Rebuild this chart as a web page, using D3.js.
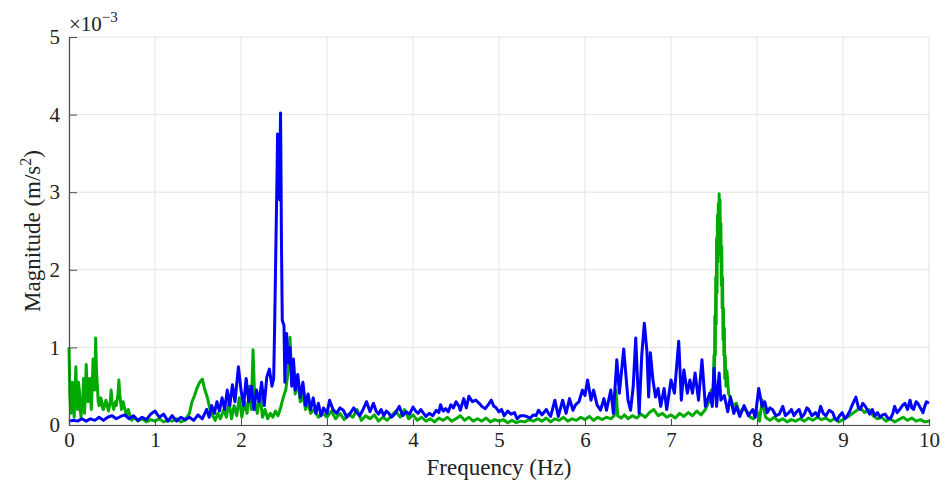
<!DOCTYPE html>
<html>
<head>
<meta charset="utf-8">
<script src="https://cdn.jsdelivr.net/npm/d3@7"></script>
<style>
  body { margin: 0; background: #fff; }
  text { font-family: "Liberation Serif", "DejaVu Serif", serif; fill: #222; }
</style>
</head>
<body>
<svg id="chart" width="945" height="485"></svg>
<script>
// tick values
const xTicks = [0, 1, 2, 3, 4, 5, 6, 7, 8, 9, 10];
const yTicks = [0, 1, 2, 3, 4, 5];

// spectra: [frequency Hz, magnitude x1e-3 m/s^2]
const blueSpectrum = [
  [0,0.05],[0.05,0.06],[0.1,0.05],[0.15,0.08],[0.2,0.05],[0.25,0.08],[0.3,0.06],[0.35,0.1],[0.4,0.06],[0.45,0.1],
  [0.5,0.12],[0.55,0.08],[0.6,0.11],[0.65,0.13],[0.7,0.08],[0.75,0.12],[0.8,0.06],[0.85,0.1],[0.9,0.07],[0.95,0.14],
  [1.0,0.18],[1.05,0.1],[1.1,0.14],[1.15,0.05],[1.2,0.12],[1.25,0.05],[1.3,0.1],[1.35,0.07],[1.4,0.1],[1.45,0.06],
  [1.5,0.13],[1.55,0.08],[1.6,0.2],[1.63,0.1],[1.66,0.25],[1.69,0.15],[1.72,0.3],[1.75,0.18],[1.78,0.35],[1.81,0.2],
  [1.84,0.45],[1.87,0.25],[1.9,0.52],[1.93,0.3],[1.97,0.75],[2.0,0.45],[2.03,0.25],[2.06,0.6],[2.09,0.3],[2.12,0.5],
  [2.15,0.2],[2.18,0.45],[2.21,0.3],[2.24,0.55],[2.27,0.25],[2.3,0.62],[2.33,0.72],[2.36,0.5],[2.38,0.6],[2.39,1.2],
  [2.4,1.9],[2.41,2.6],[2.42,3.3],[2.425,3.75],[2.435,3.1],[2.44,3.72],[2.45,2.9],[2.455,3.6],[2.46,4.02],[2.465,3.3],
  [2.47,2.4],[2.48,1.35],[2.5,1.28],[2.51,0.55],[2.53,1.18],
  [2.55,0.8],[2.57,1.0],[2.59,0.5],[2.61,0.85],[2.63,0.45],[2.66,0.65],[2.69,0.35],[2.72,0.55],[2.75,0.25],[2.78,0.4],
  [2.81,0.2],[2.84,0.35],[2.87,0.15],[2.9,0.28],[2.93,0.12],[2.96,0.22],[3.0,0.15],[3.03,0.32],[3.07,0.2],[3.11,0.15],
  [3.15,0.22],[3.19,0.19],[3.23,0.1],[3.27,0.15],[3.31,0.22],[3.34,0.17],[3.38,0.12],[3.42,0.2],[3.46,0.3],[3.5,0.17],
  [3.54,0.28],[3.57,0.18],[3.6,0.14],[3.63,0.2],[3.66,0.12],[3.69,0.18],[3.72,0.15],[3.75,0.1],[3.77,0.12],[3.8,0.16],
  [3.84,0.24],[3.88,0.12],[3.92,0.17],[3.96,0.14],[4.0,0.23],[4.03,0.18],[4.06,0.15],[4.09,0.2],[4.11,0.17],[4.15,0.11],
  [4.19,0.15],[4.23,0.12],[4.27,0.19],[4.3,0.16],[4.32,0.26],[4.35,0.18],[4.38,0.21],[4.41,0.17],[4.44,0.26],[4.47,0.22],
  [4.5,0.3],[4.53,0.25],[4.55,0.19],[4.59,0.34],[4.62,0.22],[4.65,0.37],[4.69,0.3],[4.73,0.32],[4.77,0.28],[4.8,0.24],
  [4.84,0.21],[4.88,0.27],[4.91,0.32],[4.94,0.24],[4.96,0.23],[5.0,0.17],[5.03,0.2],[5.06,0.12],[5.1,0.18],[5.14,0.14],
  [5.18,0.16],[5.21,0.08],[5.25,0.12],[5.29,0.12],[5.32,0.11],[5.36,0.09],[5.4,0.13],[5.43,0.12],[5.46,0.19],[5.5,0.13],
  [5.55,0.2],[5.58,0.14],[5.6,0.11],[5.65,0.32],[5.69,0.11],[5.74,0.32],[5.78,0.15],[5.82,0.34],[5.86,0.19],[5.89,0.26],
  [5.93,0.3],[5.97,0.45],[6.0,0.38],[6.03,0.58],[6.07,0.32],[6.1,0.45],[6.14,0.26],[6.18,0.19],[6.22,0.34],[6.25,0.19],
  [6.3,0.45],[6.33,0.15],[6.37,0.84],[6.4,0.41],[6.45,0.98],[6.5,0.32],[6.53,0.19],[6.56,0.49],[6.59,1.12],[6.61,0.6],
  [6.63,0.15],[6.66,0.9],[6.69,1.31],[6.72,0.95],[6.74,0.36],[6.76,0.93],[6.79,0.58],[6.82,0.36],[6.85,0.47],[6.88,0.24],
  [6.92,0.47],[6.95,0.2],[7.0,0.58],[7.04,0.41],[7.09,1.08],[7.12,0.32],[7.15,0.71],[7.19,0.41],[7.22,0.58],[7.25,0.41],
  [7.28,0.67],[7.32,0.32],[7.36,0.84],[7.4,0.24],[7.45,0.41],[7.48,0.24],[7.5,0.73],[7.53,0.24],[7.56,0.67],[7.58,0.32],
  [7.62,0.38],[7.66,0.17],[7.69,0.36],[7.73,0.15],[7.76,0.24],[7.8,0.11],[7.85,0.25],[7.9,0.12],[7.95,0.2],[7.98,0.1],
  [8.02,0.47],[8.06,0.24],[8.09,0.3],[8.12,0.16],[8.15,0.22],[8.18,0.2],[8.22,0.12],[8.26,0.14],[8.3,0.24],[8.33,0.12],
  [8.37,0.16],[8.4,0.2],[8.43,0.12],[8.46,0.17],[8.49,0.2],[8.52,0.1],[8.55,0.14],[8.58,0.22],[8.6,0.2],[8.64,0.12],
  [8.68,0.16],[8.71,0.11],[8.74,0.24],[8.77,0.15],[8.8,0.12],[8.84,0.19],[8.88,0.16],[8.9,0.1],[8.93,0.06],[8.96,0.12],
  [8.99,0.16],[9.02,0.08],[9.05,0.12],[9.08,0.18],[9.1,0.24],[9.15,0.36],[9.18,0.22],[9.2,0.2],[9.23,0.28],[9.26,0.24],
  [9.29,0.18],[9.31,0.14],[9.34,0.2],[9.37,0.12],[9.4,0.16],[9.43,0.1],[9.46,0.13],[9.49,0.14],[9.52,0.09],[9.55,0.08],
  [9.58,0.15],[9.6,0.24],[9.63,0.16],[9.66,0.2],[9.69,0.25],[9.72,0.28],[9.75,0.2],[9.78,0.32],[9.8,0.22],[9.82,0.2],
  [9.85,0.3],[9.87,0.28],[9.9,0.22],[9.93,0.16],[9.95,0.24],[9.97,0.3],[10,0.28]
];

const greenSpectrum = [
  [0,1.0],[0.01,0.4],[0.02,0.15],[0.03,0.3],[0.04,0.55],[0.05,0.25],[0.06,0.1],[0.07,0.4],[0.08,0.75],[0.09,0.3],
  [0.1,0.2],[0.11,0.55],[0.12,0.45],[0.13,0.2],[0.14,0.1],[0.15,0.3],[0.16,0.35],[0.17,0.6],[0.18,0.15],[0.19,0.4],
  [0.2,0.78],[0.21,0.5],[0.22,0.3],[0.23,0.55],[0.24,0.6],[0.25,0.35],[0.26,0.2],[0.27,0.5],[0.28,0.85],[0.29,0.55],
  [0.3,0.45],[0.31,1.12],[0.32,0.7],[0.33,0.5],[0.34,0.3],[0.35,0.25],[0.37,0.35],[0.38,0.3],[0.39,0.22],[0.4,0.2],
  [0.42,0.28],[0.43,0.32],[0.45,0.22],[0.46,0.18],[0.48,0.3],[0.49,0.45],[0.5,0.3],[0.52,0.2],[0.54,0.3],[0.55,0.25],
  [0.57,0.4],[0.58,0.58],[0.59,0.4],[0.61,0.2],[0.63,0.3],[0.64,0.25],[0.66,0.16],[0.67,0.12],[0.69,0.2],[0.7,0.15],
  [0.73,0.06],[0.76,0.1],[0.8,0.05],[0.85,0.08],[0.9,0.04],[0.95,0.07],[1.0,0.05],[1.05,0.08],[1.1,0.04],
  [1.15,0.06],[1.2,0.05],[1.25,0.08],[1.3,0.04],[1.35,0.06],[1.4,0.15],[1.43,0.3],[1.46,0.38],[1.49,0.48],[1.52,0.55],
  [1.55,0.59],[1.58,0.45],[1.61,0.35],[1.64,0.2],[1.67,0.12],[1.7,0.06],[1.73,0.15],[1.76,0.08],[1.8,0.2],[1.83,0.1],
  [1.86,0.3],[1.89,0.08],[1.92,0.25],[1.95,0.12],[1.98,0.35],[2.01,0.1],[2.04,0.3],[2.07,0.15],[2.1,0.5],[2.12,0.2],
  [2.14,0.97],[2.16,0.3],[2.19,0.15],[2.22,0.4],[2.25,0.1],[2.28,0.2],[2.31,0.08],[2.34,0.15],[2.37,0.1],[2.4,0.18],
  [2.43,0.12],[2.46,0.22],[2.49,0.35],[2.52,0.45],[2.55,0.7],[2.57,1.13],[2.59,0.6],[2.61,0.8],[2.63,0.4],[2.66,0.55],
  [2.69,0.3],[2.72,0.38],[2.75,0.2],[2.78,0.28],[2.81,0.15],[2.85,0.2],[2.9,0.1],[2.95,0.15],[3.0,0.1],[3.05,0.18],
  [3.1,0.08],[3.15,0.15],[3.2,0.07],[3.25,0.14],[3.3,0.1],[3.35,0.2],[3.4,0.06],[3.45,0.12],[3.5,0.08],[3.55,0.13],
  [3.6,0.05],[3.65,0.1],[3.7,0.06],[3.75,0.12],[3.8,0.18],[3.85,0.1],[3.9,0.2],[3.95,0.08],[4.0,0.13],[4.05,0.06],
  [4.1,0.1],[4.15,0.05],[4.2,0.08],[4.25,0.04],[4.3,0.09],[4.35,0.06],[4.4,0.1],[4.45,0.05],[4.5,0.08],[4.55,0.12],
  [4.6,0.06],[4.65,0.1],[4.7,0.05],[4.75,0.08],[4.8,0.05],[4.85,0.09],[4.9,0.04],[4.95,0.07],[5.0,0.05],[5.05,0.07],
  [5.1,0.03],[5.15,0.06],[5.2,0.03],[5.25,0.05],[5.3,0.04],[5.35,0.07],[5.4,0.05],[5.45,0.08],[5.5,0.05],[5.55,0.09],
  [5.6,0.04],[5.65,0.08],[5.7,0.06],[5.75,0.1],[5.8,0.05],[5.85,0.08],[5.9,0.06],[5.95,0.1],[6.0,0.07],[6.05,0.11],
  [6.1,0.06],[6.15,0.1],[6.2,0.07],[6.25,0.1],[6.3,0.08],[6.34,0.12],[6.36,0.45],[6.38,0.12],[6.42,0.09],[6.46,0.13],
  [6.5,0.08],[6.55,0.12],[6.6,0.09],[6.65,0.14],[6.7,0.1],[6.75,0.16],[6.8,0.2],[6.85,0.12],[6.9,0.15],[6.95,0.1],
  [7.0,0.13],[7.05,0.09],[7.1,0.15],[7.15,0.11],[7.2,0.16],[7.25,0.12],[7.3,0.18],[7.35,0.13],[7.4,0.2],[7.44,0.3],
  [7.47,0.45],[7.49,0.4],[7.5,0.9],[7.505,0.6],[7.51,1.4],[7.515,0.9],[7.52,1.9],[7.525,1.3],[7.53,2.4],[7.535,1.7],
  [7.54,2.7],[7.545,2.1],[7.55,2.85],[7.555,2.3],[7.56,2.98],[7.565,2.5],[7.57,2.9],[7.575,2.2],[7.58,2.6],[7.585,1.8],
  [7.59,2.3],[7.595,1.5],[7.6,1.9],[7.605,1.1],[7.61,1.5],[7.615,0.9],[7.62,1.25],[7.625,0.6],[7.63,0.9],[7.64,0.5],
  [7.65,0.7],[7.67,0.4],[7.69,0.36],[7.72,0.25],
  [7.76,0.28],[7.8,0.15],[7.84,0.22],[7.88,0.18],[7.92,0.1],[7.96,0.08],[8.0,0.18],[8.03,0.05],[8.06,0.32],[8.1,0.1],
  [8.15,0.06],[8.2,0.1],[8.25,0.05],[8.3,0.08],[8.35,0.04],[8.4,0.07],[8.45,0.05],[8.5,0.08],[8.55,0.05],[8.6,0.09],
  [8.65,0.06],[8.7,0.1],[8.75,0.07],[8.8,0.09],[8.85,0.05],[8.9,0.08],[8.95,0.04],[9.0,0.07],[9.05,0.1],[9.1,0.14],
  [9.15,0.18],[9.2,0.22],[9.25,0.16],[9.3,0.2],[9.35,0.12],[9.4,0.08],[9.45,0.1],[9.5,0.05],[9.55,0.08],[9.6,0.04],
  [9.65,0.07],[9.7,0.1],[9.75,0.06],[9.8,0.09],[9.85,0.05],[9.9,0.07],[9.95,0.04],[10,0.05]
];

const margin = { left: 69, right: 16, top: 37, bottom: 60 };
const width = 945, height = 485;

const svg = d3.select("#chart");

const x = d3.scaleLinear().domain([0, 10]).range([margin.left, width - margin.right]);
const y = d3.scaleLinear().domain([0, 5]).range([height - margin.bottom, margin.top]);

// grid
const grid = svg.append("g").attr("class", "grid");
grid.selectAll(".gx").data(xTicks).enter().append("line")
  .attr("x1", d => x(d)).attr("x2", d => x(d))
  .attr("y1", y(0)).attr("y2", y(5))
  .attr("stroke", "#e3e3e3").attr("stroke-width", 1);
grid.selectAll(".gy").data(yTicks).enter().append("line")
  .attr("x1", x(0)).attr("x2", x(10))
  .attr("y1", d => y(d)).attr("y2", d => y(d))
  .attr("stroke", "#e3e3e3").attr("stroke-width", 1);

// lines
const line = d3.line().x(d => x(d[0])).y(d => y(d[1]));

svg.append("path")
  .datum(greenSpectrum)
  .attr("fill", "none")
  .attr("stroke", "#00aa00")
  .attr("stroke-width", 3)
  .attr("stroke-linejoin", "round")
  .attr("d", line);

svg.append("path")
  .datum(blueSpectrum)
  .attr("fill", "none")
  .attr("stroke", "#0000ff")
  .attr("stroke-width", 3)
  .attr("stroke-linejoin", "round")
  .attr("d", line);

// axes
const xAxis = svg.append("g")
  .attr("transform", `translate(0,${y(0)})`)
  .call(d3.axisBottom(x).tickValues(xTicks).tickSize(-6).tickPadding(7).tickFormat(d3.format("d")));
const yAxis = svg.append("g")
  .attr("transform", `translate(${x(0)},0)`)
  .call(d3.axisLeft(y).tickValues(yTicks).tickSize(-8).tickPadding(9).tickFormat(d3.format("d")));

[xAxis, yAxis].forEach(a => {
  a.select(".domain").attr("stroke", "#4d4d4d").attr("stroke-width", 1.2);
  a.selectAll(".tick line").attr("stroke", "#4d4d4d");
  a.selectAll(".tick text").attr("font-size", 21).attr("fill", "#222")
    .style("font-family", "'Liberation Serif', serif");
});

// exponent label
const expo = svg.append("text")
  .attr("x", 69).attr("y", 31)
  .attr("font-size", 21);
expo.append("tspan").text("×10");
expo.append("tspan").attr("dy", -9).attr("font-size", 15).text("−3");

// axis titles
svg.append("text")
  .attr("x", (x(0) + x(10)) / 2).attr("y", 475)
  .attr("text-anchor", "middle")
  .attr("font-size", 23)
  .text("Frequency (Hz)");

const yl = svg.append("text")
  .attr("transform", `translate(40,${(y(0) + y(5)) / 2}) rotate(-90)`)
  .attr("text-anchor", "middle")
  .attr("font-size", 23);
yl.append("tspan").text("Magnitude (m/s");
yl.append("tspan").attr("dy", -9).attr("font-size", 16).text("2");
yl.append("tspan").attr("dy", 9).text(")");
</script>
</body>
</html>
